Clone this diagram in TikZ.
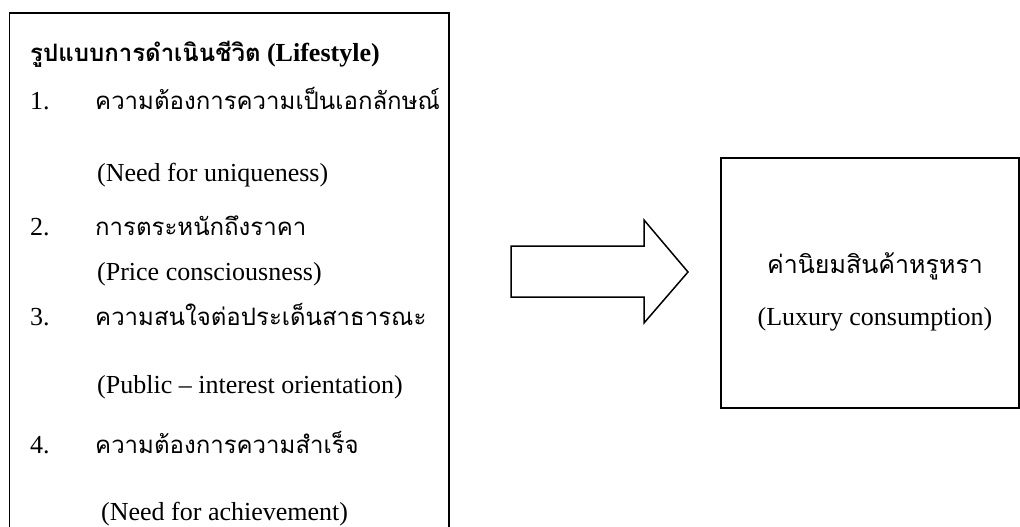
\documentclass[tikz,border=0pt]{standalone}
\usepackage{fontspec}
\setmainfont{Liberation Serif}
\newfontfamily\thai[Script=Thai]{Loma}
\begin{document}
\begin{tikzpicture}[x=1pt,y=-1pt,
  frame/.style={draw=black,line width=1.6pt},
  txt/.style={anchor=base west,inner sep=0pt,font=\fontsize{26}{30}\selectfont},
  th/.style={anchor=base west,inner sep=0pt,font=\fontsize{24}{30}\selectfont\thai},
  ctr/.style={anchor=base,inner sep=0pt,font=\fontsize{26}{30}\selectfont}]
\useasboundingbox (0,0) rectangle (1020,527);
% left box (open at the bottom)
\coordinate (lbl) at (9.5,530);
\coordinate (ltl) at (9.5,13);
\coordinate (ltr) at (449,13);
\coordinate (lbr) at (449,530);
\draw[frame] (lbl) -- (ltl) -- (ltr) -- (lbr);
% texts of left box
\node[txt] (title) at (30,62) {\textbf{{\fontsize{24}{30}\selectfont\thai รูปแบบการดำเนินชีวิต} (Lifestyle)}};
\node[txt] (n1) at (30,110) {1.};
\node[th] (t1) at (95,110) {ความต้องการความเป็นเอกลักษณ์};
\node[txt] (e1) at (97,181) {(Need for uniqueness)};
\node[txt] (n2) at (30,235) {2.};
\node[th] (t2) at (95,235) {การตระหนักถึงราคา};
\node[txt] (e2) at (97,280) {(Price consciousness)};
\node[txt] (n3) at (30,325) {3.};
\node[th] (t3) at (95,325) {ความสนใจต่อประเด็นสาธารณะ};
\node[txt] (e3) at (97,393) {(Public -- interest orientation)};
\node[txt] (n4) at (30,453) {4.};
\node[th] (t4) at (95,453) {ความต้องการความสำเร็จ};
\node[txt] (e4) at (101,520) {(Need for achievement)};
% block arrow
\draw[line width=1.5pt,line join=miter] (511,246) -- (644,246) -- (644,220) -- (688,272)
  -- (644,323) -- (644,297) -- (511,297) -- cycle;
% right box
\node[frame,minimum width=298pt,minimum height=250pt,inner sep=0pt] (lux) at (870,283) {};
\node[ctr,font=\fontsize{25}{30}\selectfont\thai] (lt) at (875,273) {ค่านิยมสินค้าหรูหรา};
\node[ctr] (le) at (875,325) {(Luxury consumption)};
\end{tikzpicture}
\end{document}
